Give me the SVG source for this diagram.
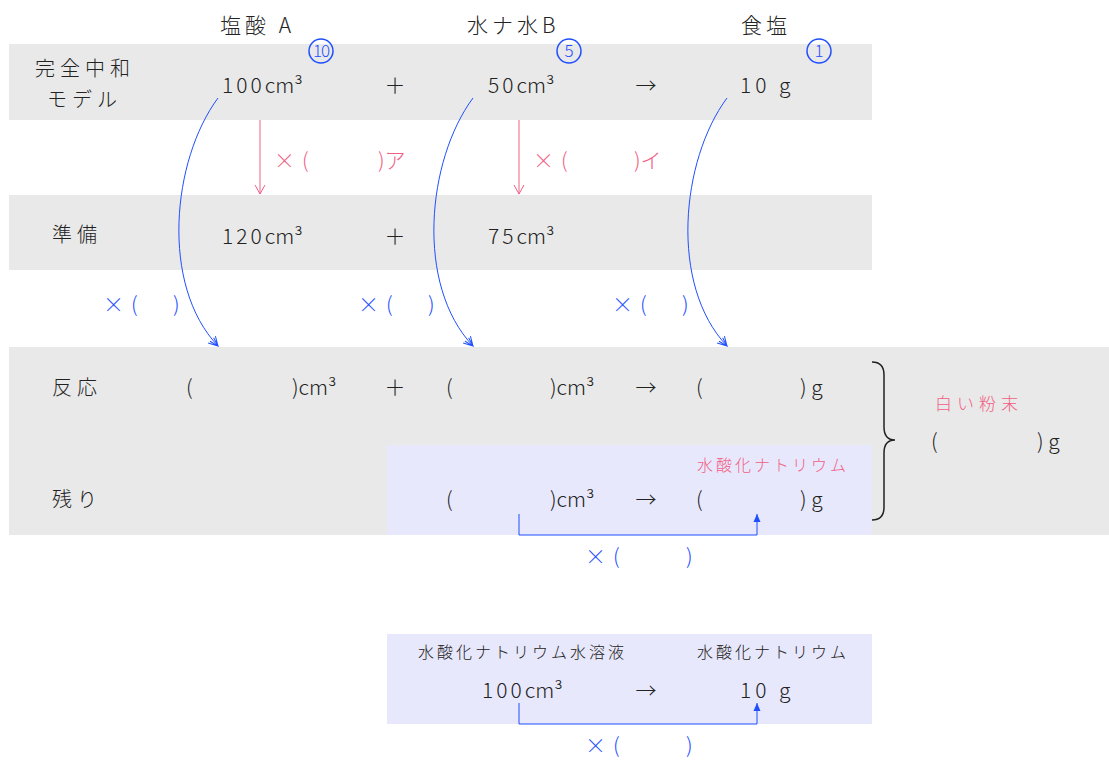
<svg xmlns="http://www.w3.org/2000/svg" width="1109" height="760" viewBox="0 0 1109 760">
<defs>
<style>
text{font-family:"Noto Sans CJK JP","Noto Sans",sans-serif;font-weight:300;fill:#222;}
.t{font-size:21px;}
.l{font-size:20px;letter-spacing:5px;}
.h{font-size:21px;letter-spacing:4px;}
.d{letter-spacing:3px;}
.g{letter-spacing:4px;}
.s{font-size:16px;letter-spacing:3px;}
.cn{font-size:17px;fill:#1f4fff;}
.b{fill:#1f4fff;}
.p{fill:#f06085;}
.band{fill:#e9e9e9;}
.lav{fill:#e8e8fc;}
.bl{stroke:#1f4fff;stroke-width:1;fill:none;}
.pk{stroke:#f06085;stroke-width:1;fill:none;}
.c{stroke:#1f4fff;stroke-width:1.5;fill:none;}
</style>
<marker id="ab" markerWidth="12" markerHeight="12" refX="10" refY="6" orient="auto" markerUnits="userSpaceOnUse"><path d="M1,1 L10,6 L1,11 M1,3.5 L10,6 L1,8.5" stroke="#1f4fff" fill="none" stroke-width="1"/></marker>
<marker id="ap" markerWidth="12" markerHeight="12" refX="10" refY="6" orient="auto" markerUnits="userSpaceOnUse"><path d="M1,1 L10,6 L1,11" stroke="#f06085" fill="none" stroke-width="1"/></marker>
<marker id="as" markerWidth="10" markerHeight="10" refX="9" refY="5" orient="auto" markerUnits="userSpaceOnUse"><path d="M1,1.5 L9,5 L1,8.5 Z" fill="#1f4fff"/></marker>
</defs>
<rect width="1109" height="760" fill="#fff"/>
<g id="bands">
<rect class="band" x="9" y="44" width="863" height="76"/>
<rect class="band" x="9" y="195" width="863" height="75"/>
<rect class="band" x="9" y="347" width="1100" height="188"/>
<rect class="lav" x="387" y="445" width="485" height="90"/>
<rect class="lav" x="387" y="634" width="485" height="90"/>
</g>
<g id="headers">
<text class="h" x="220" y="33">塩酸 A</text>
<text class="h" x="467" y="33">水ナ水B</text>
<text class="h" x="741" y="33">食塩</text>
<circle class="c" cx="321" cy="51" r="12"/>
<text class="cn" x="321" y="57" text-anchor="middle" letter-spacing="-1">10</text>
<circle class="c" cx="569" cy="51" r="12"/>
<text class="cn" x="569" y="57" text-anchor="middle">5</text>
<circle class="c" cx="819" cy="51" r="12"/>
<text class="cn" x="819" y="57" text-anchor="middle">1</text>
</g>
<g id="row-model">
<text class="l" x="35" y="76">完全中和</text>
<text class="l" x="47" y="107">モデル</text>
<text class="t" x="222" y="93"><tspan class="d">100</tspan>cm³</text>
<text class="t" x="395" y="93" text-anchor="middle">＋</text>
<text class="t" x="488" y="93"><tspan class="d">50</tspan>cm³</text>
<text class="t" x="646" y="93" text-anchor="middle">→</text>
<text class="t g" x="740" y="93">10 g</text>
</g>
<g id="row-prep">
<text class="l" x="52" y="242">準備</text>
<text class="t" x="222" y="244"><tspan class="d">120</tspan>cm³</text>
<text class="t" x="395" y="244" text-anchor="middle">＋</text>
<text class="t" x="488" y="244"><tspan class="d">75</tspan>cm³</text>
</g>
<g id="row-react">
<text class="l" x="52" y="395">反応</text>
<text class="t" x="186" y="395">(</text>
<text class="t" x="292" y="395">)cm³</text>
<text class="t" x="395" y="395" text-anchor="middle">＋</text>
<text class="t" x="446" y="395">(</text>
<text class="t" x="550" y="395">)cm³</text>
<text class="t" x="646" y="395" text-anchor="middle">→</text>
<text class="t" x="696" y="395">(</text>
<text class="t" x="800" y="395">) g</text>
</g>
<g id="row-rest">
<text class="l" x="52" y="507">残り</text>
<text class="s p" x="697" y="471">水酸化ナトリウム</text>
<text class="t" x="446" y="507">(</text>
<text class="t" x="550" y="507">)cm³</text>
<text class="t" x="646" y="507" text-anchor="middle">→</text>
<text class="t" x="696" y="507">(</text>
<text class="t" x="800" y="507">) g</text>
</g>
<g id="powder">
<path d="M872,362 Q884,362 884,375 L884,427 Q884,440 895,440 Q884,440 884,453 L884,507 Q884,520 872,520" stroke="#222" stroke-width="1.5" fill="none"/>
<text class="p" x="935" y="410" font-size="17" letter-spacing="5">白い粉末</text>
<text class="t" x="931" y="449">(</text>
<text class="t" x="1037" y="449">) g</text>
</g>
<g id="naoh-model">
<text class="s" x="418" y="658">水酸化ナトリウム水溶液</text>
<text class="s" x="697" y="658">水酸化ナトリウム</text>
<text class="t" x="482" y="698"><tspan class="d">100</tspan>cm³</text>
<text class="t" x="646" y="698" text-anchor="middle">→</text>
<text class="t g" x="740" y="698">10 g</text>
</g>
<g id="labels">
<text class="t p" x="274" y="168">×</text><text class="t p" x="302" y="168">(</text><text class="t p" x="378" y="168">)ア</text>
<text class="t p" x="533" y="168">×</text><text class="t p" x="561" y="168">(</text><text class="t p" x="634" y="168">)イ</text>
<text class="t b" x="103" y="312">×</text><text class="t b" x="131" y="312">(</text><text class="t b" x="173" y="312">)</text>
<text class="t b" x="358" y="312">×</text><text class="t b" x="386" y="312">(</text><text class="t b" x="428" y="312">)</text>
<text class="t b" x="612" y="312">×</text><text class="t b" x="640" y="312">(</text><text class="t b" x="682" y="312">)</text>
<text class="t b" x="585" y="564">×</text><text class="t b" x="613" y="564">(</text><text class="t b" x="686" y="564">)</text>
<text class="t b" x="585" y="753">×</text><text class="t b" x="613" y="753">(</text><text class="t b" x="686" y="753">)</text>
</g>
<g id="connectors">
<line class="pk" x1="260" y1="120" x2="260" y2="194" marker-end="url(#ap)"/>
<line class="pk" x1="519" y1="120" x2="519" y2="194" marker-end="url(#ap)"/>
<path class="bl" d="M218,98 C172,160 160,285 218,346" marker-end="url(#ab)"/>
<path class="bl" d="M473,98 C427,160 415,285 473,346" marker-end="url(#ab)"/>
<path class="bl" d="M727,98 C681,160 669,285 727,346" marker-end="url(#ab)"/>
<path class="bl" d="M519,514 L519,535 L757,535 L757,514" marker-end="url(#as)"/>
<path class="bl" d="M519,703 L519,724 L757,724 L757,703" marker-end="url(#as)"/>
</g>
</svg>
